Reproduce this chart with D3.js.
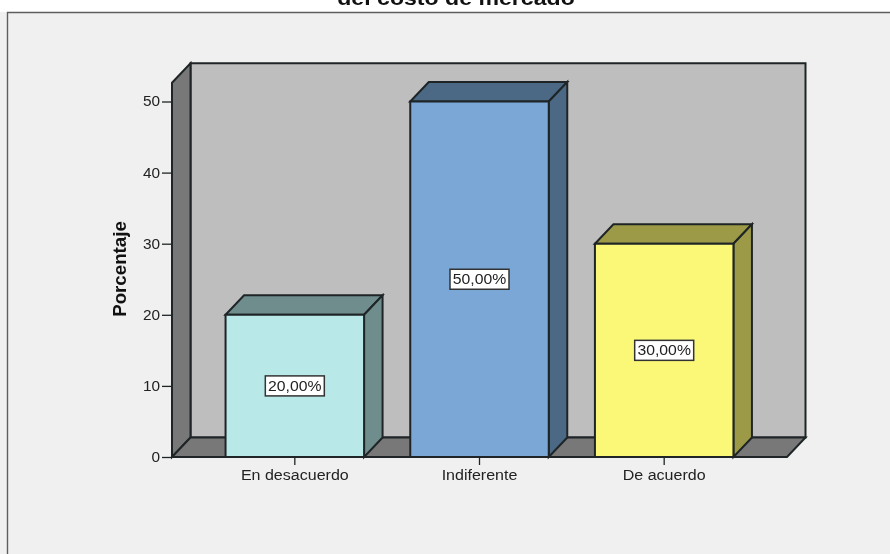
<!DOCTYPE html>
<html><head><meta charset="utf-8">
<script src="https://cdnjs.cloudflare.com/ajax/libs/d3/7.8.5/d3.min.js"></script>
<style>html,body{margin:0;padding:0;background:#fff;overflow:hidden}svg{display:block;font-family:"Liberation Sans",Arial,sans-serif;filter:blur(0.45px)}</style>
</head><body><svg id="c" width="890" height="554"></svg>
<script>
const titleText = "del costo de mercado";
const yTitle = "Porcentaje";
const categories = ["En desacuerdo","Indiferente","De acuerdo"];
const values = [20,50,30];
const valueLabels = ["20,00%","50,00%","30,00%"];
const fronts = ["#b8e8e8","#7aa7d6","#fcf877"];
const sides = ["#6f8d8d","#4b6885","#9d9a47"];
const yTicks = [0,10,20,30,40,50];

const svg = d3.select("#c");
const dx = 18.5, dy = -19.5, ink = "#1f2526";
const x = d3.scaleBand().domain(categories).range([172,787]).paddingInner(0.25).paddingOuter(0.29);
const y = d3.scaleLinear().domain([0,50]).range([457,101.5]);
const yTop = y(52.63);
const left = x.range()[0], right = x.range()[1], base = y(0);
const poly = (pts,fill,sw=2) => svg.append("polygon").attr("points",pts.map(p=>p.join(",")).join(" "))
  .attr("fill",fill).attr("stroke",ink).attr("stroke-width",sw).attr("stroke-linejoin","miter");
const stretch = (sel,k) => sel.each(function(){
  const n=this; n.setAttribute("lengthAdjust","spacingAndGlyphs");
  n.setAttribute("textLength",n.getComputedTextLength()*k);
});

svg.append("rect").attr("x",0).attr("y",12).attr("width",890).attr("height",542).attr("fill","#f0f0f0");
svg.append("path").attr("d","M7.5,554V12.5H890").attr("fill","none").attr("stroke","#5e5e5e").attr("stroke-width",1.4);
svg.append("text").attr("x",456).attr("y",4.5).attr("text-anchor","middle").attr("font-size",21).attr("font-weight","bold").attr("fill","#111").text(titleText).call(stretch,1.1);

// walls
poly([[left+dx,yTop+dy],[right+dx,yTop+dy],[right+dx,base+dy],[left+dx,base+dy]],"#bebebe");
poly([[left,yTop],[left+dx,yTop+dy],[left+dx,base+dy],[left,base]],"#787878");
poly([[left,base],[left+dx,base+dy],[right+dx,base+dy],[right,base]],"#787878");

// axes
const yAxis = d3.axisLeft(y).tickValues(yTicks).tickSize(10).tickPadding(2);
const yg = svg.append("g").attr("transform",`translate(${left},0)`).call(yAxis);
yg.select(".domain").remove();
yg.selectAll("line").attr("stroke",ink).attr("stroke-width",1.3);
yg.selectAll("text").attr("font-size",14).attr("fill","#222").attr("font-family",'"Liberation Sans"').call(stretch,1.1);
const xAxis = d3.axisBottom(x).tickSize(8).tickPadding(5);
const xg = svg.append("g").attr("transform",`translate(0,${base})`).call(xAxis);
xg.select(".domain").remove();
xg.selectAll("line").attr("stroke",ink).attr("stroke-width",1.3);
xg.selectAll("text").attr("font-size",14).attr("fill","#222").attr("font-family",'"Liberation Sans"').call(stretch,1.145);

// bars
categories.forEach((c,i)=>{
  const x0=x(c), x1=x0+x.bandwidth(), t=y(values[i]);
  poly([[x0,t],[x0+dx,t+dy],[x1+dx,t+dy],[x1,t]],sides[i]);
  poly([[x1,t],[x1+dx,t+dy],[x1+dx,base+dy],[x1,base]],sides[i]);
  poly([[x0,t],[x1,t],[x1,base],[x0,base]],fronts[i]);
  const cx=(x0+x1)/2, cy=y(values[i]/2);
  svg.append("rect").attr("x",cx-29.5).attr("y",cy-10).attr("width",59).attr("height",20)
    .attr("fill","#fff").attr("stroke","#333").attr("stroke-width",1.5);
  svg.append("text").attr("x",cx).attr("y",cy+5).attr("text-anchor","middle").attr("font-size",14).attr("fill","#222").text(valueLabels[i]).call(stretch,1.125);
});
svg.append("line").attr("x1",left).attr("x2",right).attr("y1",base).attr("y2",base).attr("stroke",ink).attr("stroke-width",2);

svg.append("text").attr("transform",`translate(126,269) rotate(-90)`).attr("text-anchor","middle")
  .attr("font-size",18).attr("font-weight","bold").attr("fill","#111").text(yTitle).call(stretch,1.04);
</script></body></html>
